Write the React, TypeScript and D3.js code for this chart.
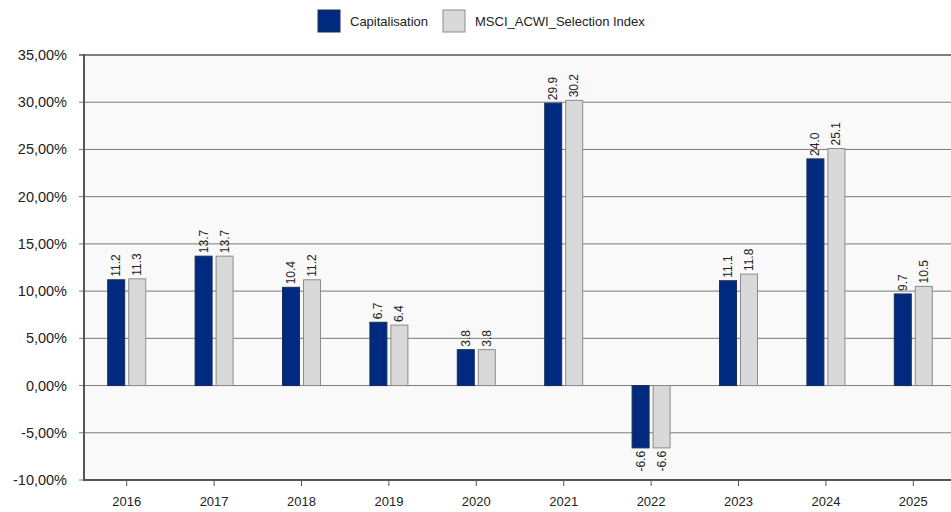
import React from "react";
import * as d3 from "d3";

const years = ["2016", "2017", "2018", "2019", "2020", "2021", "2022", "2023", "2024", "2025"];
const capitalisation = [11.2, 13.7, 10.4, 6.7, 3.8, 29.9, -6.6, 11.1, 24.0, 9.7];
const msciIndex = [11.3, 13.7, 11.2, 6.4, 3.8, 30.2, -6.6, 11.8, 25.1, 10.5];
const yTicks = [35, 30, 25, 20, 15, 10, 5, 0, -5, -10];
const seriesNames = ["Capitalisation", "MSCI_ACWI_Selection Index"];

const W = 951;
const H = 512;
const left = 84;
const top = 55;
const bottom = 480;
const right = 957;
const font = "Liberation Sans, Arial, sans-serif";

export default function App() {
  const x = d3.scaleBand<string>().domain(years).range([left - 1, right]);
  const y = d3.scaleLinear().domain([-10, 35]).range([bottom, top]);
  const bw = 18;
  const gap = 1.5;
  const fmt = (v: number) => v.toFixed(2).replace(".", ",") + "%";
  const series = [
    { name: seriesNames[0], values: capitalisation, fill: "#002a80", stroke: "#1a2f5a" },
    { name: seriesNames[1], values: msciIndex, fill: "#d9d9d9", stroke: "#8c8c8c" },
  ];
  return (
    <svg width={W} height={H} style={{ position: "absolute", left: 0, top: 0 }}>
      <rect x={0} y={0} width={W} height={H} fill="#ffffff" />
      <rect x={left} y={top} width={right - left} height={bottom - top} fill="#f9f9f9" />
      {yTicks.map((t) => (
        <g key={t}>
          <line x1={left - 5} x2={right} y1={y(t)} y2={y(t)} stroke={t === 35 ? "#555" : "#7a7a7a"} strokeWidth={t === 35 ? 1.5 : 1} />
          <text x={67} y={y(t) + 5} textAnchor="end" fontFamily={font} fontSize={14.5} fill="#222">
            {fmt(t)}
          </text>
        </g>
      ))}
      <line x1={left} x2={left} y1={top - 1} y2={bottom + 1} stroke="#555" strokeWidth={2} />
      <line x1={left} x2={right} y1={bottom} y2={bottom} stroke="#555" strokeWidth={2} />
      {years.map((yr) => {
        const cx = (x(yr) as number) + x.bandwidth() / 2;
        return (
          <g key={yr}>
            <line x1={cx} x2={cx} y1={bottom} y2={bottom + 6} stroke="#555" strokeWidth={1} />
            <text x={cx} y={506} textAnchor="middle" fontFamily={font} fontSize={13} fill="#222">
              {yr}
            </text>
          </g>
        );
      })}
      {series.map((s, si) =>
        s.values.map((v, i) => {
          const cx = (x(years[i]) as number) + x.bandwidth() / 2;
          const bx = si === 0 ? cx - gap - bw : cx + gap;
          const y0 = y(0);
          const yv = y(v);
          const ytop = Math.min(y0, yv);
          const h = Math.abs(yv - y0);
          const lx = bx + bw / 2 + 4;
          const ly = v >= 0 ? yv - 3 : yv + 3;
          return (
            <g key={s.name + i}>
              <rect x={bx + 0.5} y={ytop} width={bw - 1} height={h} fill={s.fill} stroke={s.stroke} strokeWidth={1} />
              <text
                transform={`translate(${lx},${ly}) rotate(-90)`}
                textAnchor={v >= 0 ? "start" : "end"}
                fontFamily={font}
                fontSize={12}
                fill="#222"
              >
                {v.toFixed(1)}
              </text>
            </g>
          );
        })
      )}
      <rect x={318} y={10} width={22} height={22} fill="#002a80" stroke="#1a2f5a" strokeWidth={1} />
      <text x={350} y={26} fontFamily={font} fontSize={13} fill="#222">{seriesNames[0]}</text>
      <rect x={443} y={10} width={22} height={22} fill="#d9d9d9" stroke="#8c8c8c" strokeWidth={1} />
      <text x={475} y={26} fontFamily={font} fontSize={13} fill="#222">{seriesNames[1]}</text>
    </svg>
  );
}
